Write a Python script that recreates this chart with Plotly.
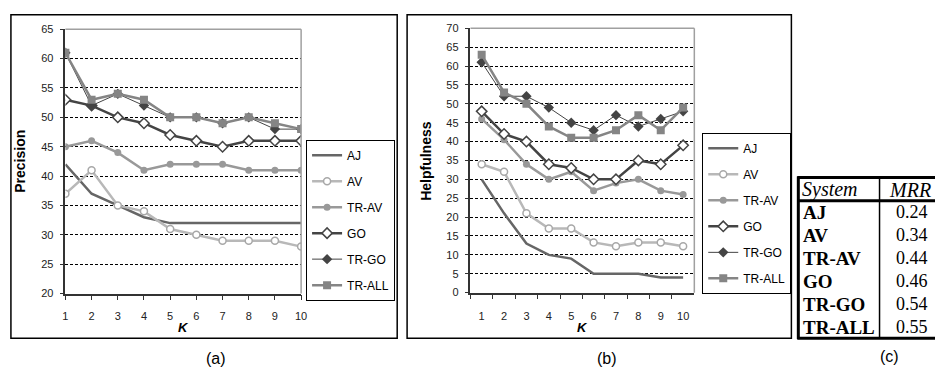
import plotly.graph_objects as go

# ---------------- data ----------------
K = [1, 2, 3, 4, 5, 6, 7, 8, 9, 10]
K_labels = ["1", "2", "3", "4", "5", "6", "7", "8", "9", "10"]
systems = ["AJ", "AV", "TR-AV", "GO", "TR-GO", "TR-ALL"]

prec_AJ = [42, 37, 35, 33, 32, 32, 32, 32, 32, 32]
prec_AV = [37, 41, 35, 34, 31, 30, 29, 29, 29, 28]
prec_TRAV = [45, 46, 44, 41, 42, 42, 42, 41, 41, 41]
prec_GO = [53, 52, 50, 49, 47, 46, 45, 46, 46, 46]
prec_TRGO = [61, 52, 54, 52, 50, 50, 49, 50, 48, 48]
prec_TRALL = [61, 53, 54, 53, 50, 50, 49, 50, 49, 48]

help_AJ = [30, 21, 13, 10, 9, 5, 5, 5, 4, 4]
help_AV = [34, 32, 21, 17, 17, 13.3, 12.3, 13.3, 13.3, 12.3]
help_TRAV = [46, 40.5, 34, 30, 32, 27, 29, 30, 27, 26]
help_GO = [48, 42, 40, 34, 33, 30, 30, 35, 34, 39]
help_TRGO = [61, 52, 52, 49, 45, 43, 47, 44, 46, 48]
help_TRALL = [63, 53, 50, 44, 41, 41, 43, 47, 43, 49]

mrr_systems = ["AJ", "AV", "TR-AV", "GO", "TR-GO", "TR-ALL"]
mrr_values = ["0.24", "0.34", "0.44", "0.46", "0.54", "0.55"]

prec_ticks = [20, 25, 30, 35, 40, 45, 50, 55, 60, 65]
help_ticks = [0, 5, 10, 15, 20, 25, 30, 35, 40, 45, 50, 55, 60, 65, 70]

# ---------------- styles ----------------
W, H = 941, 379
def px(x): return x / W
def py(y): return 1 - y / H

FONT = "Arial, Liberation Sans, sans-serif"
SERIF = "Times New Roman, Liberation Serif, serif"

styles = {
    "AJ":     dict(line=dict(color="#666666", width=2.5), mode="lines"),
    "AV":     dict(line=dict(color="#b8b8b8", width=2.5), mode="lines+markers",
                   marker=dict(symbol="circle", size=7, color="white",
                               line=dict(color="#a8a8a8", width=1.5))),
    "TR-AV":  dict(line=dict(color="#999999", width=2.5), mode="lines+markers",
                   marker=dict(symbol="circle", size=7, color="#999999")),
    "GO":     dict(line=dict(color="#444444", width=2.5), mode="lines+markers",
                   marker=dict(symbol="diamond", size=8, color="white",
                               line=dict(color="#444444", width=1.5))),
    "TR-GO":  dict(line=dict(color="#444444", width=1), mode="lines+markers",
                   marker=dict(symbol="diamond", size=8, color="#444444")),
    "TR-ALL": dict(line=dict(color="#858585", width=2.5), mode="lines+markers",
                   marker=dict(symbol="square", size=8, color="#858585")),
}

prec_series = [prec_AJ, prec_AV, prec_TRAV, prec_GO, prec_TRGO, prec_TRALL]
help_series = [help_AJ, help_AV, help_TRAV, help_GO, help_TRGO, help_TRALL]

fig = go.Figure()
for name, ys in zip(systems, prec_series):
    fig.add_trace(go.Scatter(x=K, y=ys, name=name, xaxis="x", yaxis="y",
                             legend="legend", legendgroup="a" + name,
                             **styles[name]))
for name, ys in zip(systems, help_series):
    fig.add_trace(go.Scatter(x=K_labels, y=ys, name=name, xaxis="x2", yaxis="y2",
                             legend="legend2", legendgroup="b" + name,
                             **styles[name]))

axis_common = dict(showline=True, linecolor="#333333", linewidth=1.5,
                   ticks="outside", tickcolor="#333333", tickwidth=1,
                   tickfont=dict(family=FONT, size=11, color="#222222"),
                   zeroline=False, fixedrange=True)

legend_common = dict(bgcolor="white", bordercolor="black", borderwidth=1,
                     font=dict(family=FONT, size=12, color="black"),
                     tracegroupgap=7, xanchor="left", yanchor="top",
                     itemclick=False)

fig.update_layout(
    width=W, height=H, margin=dict(l=0, r=0, t=0, b=0),
    paper_bgcolor="white", plot_bgcolor="white",
    xaxis=dict(domain=[px(63), px(301)], range=[1, 10], tickvals=K,
               ticklen=5, ticklabelstandoff=6,
               showgrid=False, anchor="y", **axis_common),
    yaxis=dict(domain=[py(297), py(24)], range=[20, 65], tickvals=prec_ticks,
               ticklen=4, ticklabelstandoff=4,
               showgrid=True, gridcolor="black", gridwidth=1, griddash="3px,2px",
               anchor="x", **axis_common),
    xaxis2=dict(domain=[px(472), px(698)], type="category", range=[-0.5, 9.5],
                ticklen=5, ticklabelstandoff=12,
                tickson="boundaries", showgrid=False, anchor="y2", **axis_common),
    yaxis2=dict(domain=[py(296), py(23)], range=[0, 70], tickvals=help_ticks,
                ticklen=4, ticklabelstandoff=4,
                showgrid=True, gridcolor="black", gridwidth=1, griddash="3px,2px",
                anchor="x2", **axis_common),
    legend=dict(x=px(306), y=py(138), **legend_common),
    legend2=dict(x=px(706), y=py(131), **legend_common),
)

shapes = []
# outer frames of panels (a) and (b)
for x0, x1 in [(8, 398), (408, 796)]:
    shapes.append(dict(type="rect", xref="paper", yref="paper",
                       x0=px(x0), x1=px(x1), y0=py(343), y1=py(9),
                       line=dict(color="black", width=1.5), layer="below"))
# gray plot-area borders (top and right)
for xr, yr in [("x domain", "y domain"), ("x2 domain", "y2 domain")]:
    shapes.append(dict(type="line", xref=xr, yref=yr, x0=0, x1=1, y0=1, y1=1,
                       line=dict(color="#a0a0a0", width=1.5)))
    shapes.append(dict(type="line", xref=xr, yref=yr, x0=1, x1=1, y0=0, y1=1,
                       line=dict(color="#a0a0a0", width=1.5)))

# table (c) rules (right edge is cut off by the image)
def hline(y, x0, x1, w):
    shapes.append(dict(type="line", xref="paper", yref="paper",
                       x0=px(x0), x1=px(x1), y0=py(y), y1=py(y),
                       line=dict(color="black", width=w)))
def vline(x, y0, y1, w):
    shapes.append(dict(type="line", xref="paper", yref="paper",
                       x0=px(x), x1=px(x), y0=py(y0), y1=py(y1),
                       line=dict(color="black", width=w)))
hline(177, 802, 941, 3)
hline(201, 802, 941, 3)
hline(343, 802, 941, 3)
vline(803, 176, 344, 3)
vline(885, 177, 343, 1.5)
fig.update_layout(shapes=shapes)

ann = []
def text(x, y, s, size, family=FONT, xanchor="center", angle=0, color="black"):
    ann.append(dict(xref="paper", yref="paper", x=px(x), y=py(y), text=s,
                    showarrow=False, xanchor=xanchor, yanchor="middle",
                    textangle=angle, font=dict(family=family, size=size, color=color)))

text(17, 160, "<b>Precision</b>", 14, angle=-90)
text(427, 160, "<b>Helpfulness</b>", 14, angle=-90)
text(182, 332, "<b><i>K</i></b>", 13)
text(585, 332, "<b><i>K</i></b>", 13)
text(215, 364, "(a)", 16)
text(610, 364, "(b)", 16)
text(895, 362, "(c)", 16)

# table text
text(805, 190, "<i>System</i>", 20, family=SERIF, xanchor="left")
text(916, 190, "<i>MRR</i>", 20, family=SERIF)
row_y0, row_dy = 213, 23.7
for i, (s, v) in enumerate(zip(mrr_systems, mrr_values)):
    yy = row_y0 + i * row_dy
    text(806, yy, "<b>" + s + "</b>", 19, family=SERIF, xanchor="left")
    text(918, yy, v, 18, family=SERIF)

fig.update_layout(annotations=ann)

fig.write_html("out.html", config={"displayModeBar": False},
               post_script="document.body.style.margin='0px';document.body.style.overflow='hidden';")
